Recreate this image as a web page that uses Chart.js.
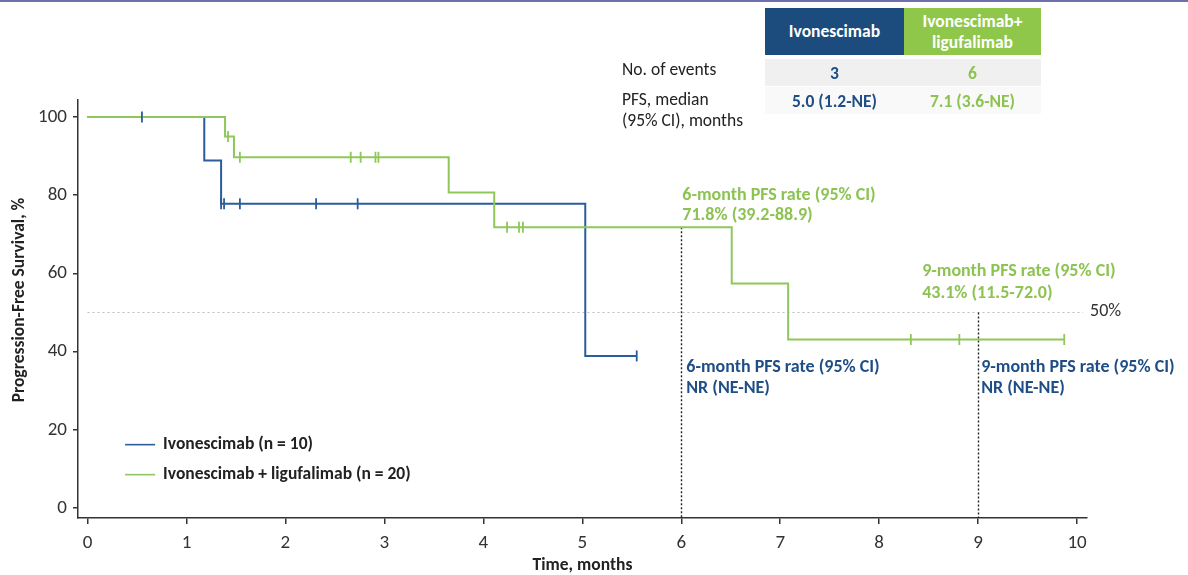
<!DOCTYPE html>
<html>
<head>
<meta charset="utf-8">
<title>Progression-Free Survival</title>
<script src="https://cdn.jsdelivr.net/npm/chart.js@4.4.1/dist/chart.umd.min.js"></script>
<style>
  html, body { margin: 0; padding: 0; background: #ffffff; }
  body { width: 1188px; height: 575px; position: relative; overflow: hidden;
         font-family: Carlito, Lato, "Open Sans", sans-serif; }
  #topRule { position: absolute; left: 0; top: 0; width: 1188px; height: 2px; background: #6f6fae; }
  #kmChart { position: absolute; left: 0; top: 0; }
  .cell { position: absolute; display: flex; align-items: center; justify-content: center;
          text-align: center; box-sizing: border-box; }
  .hdr { color: #ffffff; font-weight: 700; font-size: 17.5px; line-height: 21px; }
  .rowLabel { position: absolute; color: #222222; font-size: 17.5px; line-height: 21px; }
  .val { font-weight: 700; font-size: 17.5px; }
</style>
</head>
<body>
<div id="topRule"></div>
<canvas id="kmChart" width="1188" height="575"></canvas>

<!-- summary table -->
<div class="cell hdr" style="left:765px;top:8px;width:139px;height:47px;background:#1c4b7d;">Ivonescimab</div>
<div class="cell hdr" style="left:904px;top:8px;width:137px;height:47px;background:#8fc74b;">Ivonescimab+<br>ligufalimab</div>
<div class="cell" style="left:765px;top:59px;width:276px;height:27px;background:#f0f0f0;"></div>
<div class="cell" style="left:765px;top:87px;width:276px;height:27px;background:#f9f9f9;"></div>
<div class="rowLabel" style="left:622px;top:59px;">No. of events</div>
<div class="rowLabel" style="left:622px;top:89px;">PFS, median<br>(95% CI), months</div>
<div class="cell val" id="evIvo" style="left:765px;top:59px;width:139px;height:27px;color:#1f4e86;"></div>
<div class="cell val" id="evCombo" style="left:904px;top:59px;width:137px;height:27px;color:#8dc352;"></div>
<div class="cell val" id="medIvo" style="left:765px;top:87px;width:139px;height:27px;color:#1f4e86;"></div>
<div class="cell val" id="medCombo" style="left:904px;top:87px;width:137px;height:27px;color:#8dc352;"></div>

<script>
// ---- Kaplan-Meier data (months, % progression-free) ----
const ivoTimes   = [0, 1.18, 1.35, 5.03, 5.55];
const ivoSurv    = [100, 88.9, 77.8, 38.9, 38.9];
const ivoCensor  = [0.55, 1.35, 1.38, 1.54, 2.31, 2.73, 5.55];

const comboTimes  = [0, 1.39, 1.48, 3.65, 4.11, 6.51, 7.08, 9.87];
const comboSurv   = [100, 95.0, 89.7, 80.7, 71.8, 57.4, 43.1, 43.1];
const comboCensor = [1.42, 1.54, 2.66, 2.76, 2.91, 2.94, 4.24, 4.36, 4.40, 8.32, 8.81, 9.87];

const xTicks = [0, 1, 2, 3, 4, 5, 6, 7, 8, 9, 10];
const yTicks = [0, 20, 40, 60, 80, 100];

const seriesNames = ['Ivonescimab (n = 10)', 'Ivonescimab + ligufalimab (n = 20)'];
const eventCounts = [3, 6];
const medianPFS   = ['5.0 (1.2-NE)', '7.1 (3.6-NE)'];

const landmarkMonths = [6, 9];
const comboLandmark = [
  ['6-month PFS rate (95% CI)', '71.8% (39.2-88.9)'],
  ['9-month PFS rate (95% CI)', '43.1% (11.5-72.0)']
];
const ivoLandmark = [
  ['6-month PFS rate (95% CI)', 'NR (NE-NE)'],
  ['9-month PFS rate (95% CI)', 'NR (NE-NE)']
];
const medianLine = 50;

// ---- styling ----
const BLUE = '#2a5d9a';
const BLUE_TEXT = '#1f4e86';
const GREEN = '#8fc75a';
const GREEN_TEXT = '#8dc352';
const FONT = 'Carlito, Lato, "Open Sans", sans-serif';

document.getElementById('evIvo').textContent = eventCounts[0];
document.getElementById('evCombo').textContent = eventCounts[1];
document.getElementById('medIvo').textContent = medianPFS[0];
document.getElementById('medCombo').textContent = medianPFS[1];

// survival value at time t for a step curve
function survAt(times, surv, t) {
  let v = surv[0];
  for (let i = 0; i < times.length; i++) { if (times[i] <= t) v = surv[i]; }
  return v;
}
const toPts = (xs, ys) => xs.map((x, i) => ({ x: x, y: ys[i] }));
const censorPts = (c, times, surv) => c.map(t => ({ x: t, y: survAt(times, surv, t) }));

const overlay = {
  id: 'kmOverlay',
  beforeDatasetsDraw(chart) {
    const { ctx, scales: { x, y } } = chart;
    ctx.save();
    // 50% reference line
    ctx.strokeStyle = '#bdbdbd';
    ctx.lineWidth = 1.2;
    ctx.setLineDash([2, 3]);
    ctx.beginPath();
    ctx.moveTo(x.getPixelForValue(0), y.getPixelForValue(medianLine));
    ctx.lineTo(x.getPixelForValue(10.06), y.getPixelForValue(medianLine));
    ctx.stroke();
    // landmark verticals
    ctx.strokeStyle = '#222222';
    ctx.lineWidth = 1.4;
    ctx.setLineDash([2, 2]);
    const tops = [survAt(comboTimes, comboSurv, landmarkMonths[0]), medianLine];
    landmarkMonths.forEach((m, i) => {
      const px = Math.round(x.getPixelForValue(m)) + 0.5;
      ctx.beginPath();
      ctx.moveTo(px, y.getPixelForValue(tops[i]));
      ctx.lineTo(px, chart.chartArea.bottom);
      ctx.stroke();
    });
    ctx.restore();
  },
  afterDraw(chart) {
    const { ctx, scales: { x, y }, chartArea } = chart;
    ctx.save();
    ctx.textBaseline = 'middle';
    ctx.textAlign = 'left';
    // 50% label
    ctx.font = '18px ' + FONT;
    ctx.fillStyle = '#333333';
    ctx.fillText(medianLine + '%', x.getPixelForValue(10.06) + 7, y.getPixelForValue(medianLine) - 1);

    ctx.font = 'bold 18px ' + FONT;
    // combination landmark labels (above the curve)
    ctx.fillStyle = GREEN_TEXT;
    const g6x = x.getPixelForValue(landmarkMonths[0]) + 1;
    const g6y = y.getPixelForValue(survAt(comboTimes, comboSurv, landmarkMonths[0]));
    ctx.fillText(comboLandmark[0][0], g6x, g6y - 32);
    ctx.fillText(comboLandmark[0][1], g6x, g6y - 12);
    const g9x = x.getPixelForValue(landmarkMonths[1]) - 56;
    const g9y = y.getPixelForValue(medianLine);
    ctx.fillText(comboLandmark[1][0], g9x, g9y - 41);
    ctx.fillText(comboLandmark[1][1], g9x, g9y - 19);
    // monotherapy landmark labels
    ctx.fillStyle = BLUE_TEXT;
    landmarkMonths.forEach((m, i) => {
      const bx = x.getPixelForValue(m) + (i === 0 ? 5 : 3);
      const by = y.getPixelForValue(medianLine) + 55;
      ctx.fillText(ivoLandmark[i][0], bx, by);
      ctx.fillText(ivoLandmark[i][1], bx, by + 21);
    });

    // legend
    const legendColors = [BLUE, GREEN];
    const lx = x.getPixelForValue(0.38), ly = y.getPixelForValue(16.2);
    ctx.font = 'bold 17.5px ' + FONT;
    ctx.fillStyle = '#222222';
    seriesNames.forEach((name, i) => {
      const yy = ly + i * 30;
      ctx.strokeStyle = legendColors[i];
      ctx.lineWidth = 1.6;
      ctx.beginPath();
      ctx.moveTo(lx, yy); ctx.lineTo(lx + 30, yy);
      ctx.stroke();
      ctx.fillText(name, lx + 38, yy);
    });

    // axis titles
    ctx.fillStyle = '#222222';
    ctx.font = 'bold 17.5px ' + FONT;
    ctx.textAlign = 'center';
    ctx.fillText('Time, months', (chartArea.left + chartArea.right) / 2, 566);
    ctx.translate(20, 300);
    ctx.rotate(-Math.PI / 2);
    ctx.fillText('Progression-Free Survival, %', 0, 0);
    ctx.restore();
  }
};

new Chart(document.getElementById('kmChart'), {
  type: 'line',
  data: {
    datasets: [
      { label: 'ivoCensor', data: censorPts(ivoCensor, ivoTimes, ivoSurv), showLine: false,
        pointStyle: 'line', rotation: 90, pointRadius: 5.5, pointBorderWidth: 1.8,
        borderColor: BLUE, pointBorderColor: BLUE, order: 0 },
      { label: 'comboCensor', data: censorPts(comboCensor, comboTimes, comboSurv), showLine: false,
        pointStyle: 'line', rotation: 90, pointRadius: 5.5, pointBorderWidth: 1.8,
        borderColor: GREEN, pointBorderColor: GREEN, order: 1 },
      { label: seriesNames[1], data: toPts(comboTimes, comboSurv), stepped: 'before',
        borderColor: GREEN, borderWidth: 2, pointRadius: 0, fill: false, order: 2 },
      { label: seriesNames[0], data: toPts(ivoTimes, ivoSurv), stepped: 'before',
        borderColor: BLUE, borderWidth: 2, pointRadius: 0, fill: false, order: 3 }
    ]
  },
  options: {
    responsive: false,
    animation: false,
    layout: { padding: { top: 100, right: 101, left: 0, bottom: 0 } },
    plugins: { legend: { display: false }, tooltip: { enabled: false } },
    scales: {
      x: {
        type: 'linear', min: -0.096, max: 10.1,
        afterBuildTicks: s => { s.ticks = xTicks.map(v => ({ value: v })); },
        afterFit: s => { s.height = 57; },
        grid: { drawOnChartArea: false, drawTicks: true, tickLength: 6, color: '#333333', lineWidth: 1.5 },
        border: { display: true, color: '#333333', width: 1.5 },
        ticks: { font: { family: FONT, size: 19 }, color: '#333333', padding: 8,
                 maxRotation: 0, autoSkip: false }
      },
      y: {
        type: 'linear', min: -2.56, max: 104.35,
        afterBuildTicks: s => { s.ticks = yTicks.map(v => ({ value: v })); },
        afterFit: s => { s.width = 78; },
        grid: { drawOnChartArea: false, drawTicks: true, tickLength: 5, color: '#333333', lineWidth: 1.5 },
        border: { display: true, color: '#333333', width: 1.5 },
        ticks: { font: { family: FONT, size: 19 }, color: '#333333', padding: 6, autoSkip: false }
      }
    }
  },
  plugins: [overlay]
});
</script>
</body>
</html>
